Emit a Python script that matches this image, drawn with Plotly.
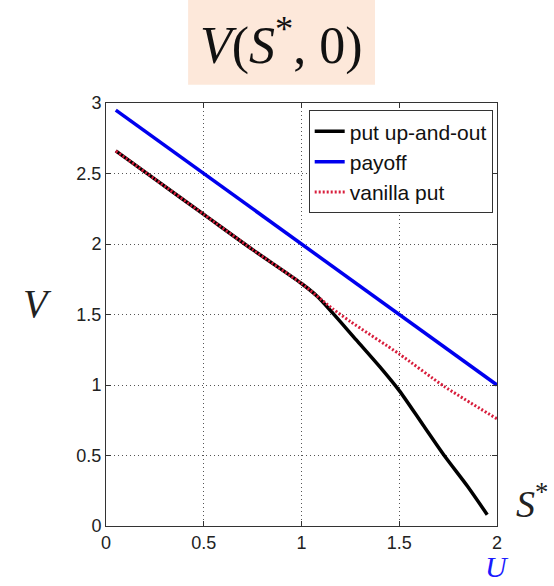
import plotly.graph_objects as go

# ---- data ----
s_knock = [0.05, 0.25, 0.5, 0.75, 1.0, 1.08, 1.16, 1.28, 1.4, 1.5, 1.62, 1.73, 1.85, 1.95]
v_knock = [2.66, 2.46, 2.21, 1.96, 1.72, 1.63, 1.51, 1.32, 1.13, 0.96, 0.72, 0.50, 0.28, 0.08]

s_payoff = [0.05, 2.0]
v_payoff = [2.95, 1.0]

s_vanilla = [0.05, 0.25, 0.5, 0.75, 1.0, 1.16, 1.25, 1.5, 1.73, 2.0]
v_vanilla = [2.66, 2.46, 2.21, 1.96, 1.72, 1.54, 1.45, 1.22, 0.99, 0.76]

x_ticks = [0, 0.5, 1, 1.5, 2]
x_ticklabels = ["0", "0.5", "1", "1.5", "2"]
y_ticks = [0, 0.5, 1, 1.5, 2, 2.5, 3]
y_ticklabels = ["0", "0.5", "1", "1.5", "2", "2.5", "3"]

names = ["put up-and-out", "payoff", "vanilla put"]

fig = go.Figure()
fig.add_trace(go.Scatter(x=s_knock, y=v_knock, mode="lines", name=names[0], legendgroup="a",
                         line=dict(color="black", width=3.5, shape="spline", smoothing=0.8)))
fig.add_trace(go.Scatter(x=s_payoff, y=v_payoff, mode="lines", name=names[1], legendgroup="b",
                         line=dict(color="#0000ee", width=3.5)))
fig.add_trace(go.Scatter(x=s_vanilla, y=v_vanilla, mode="lines", name=names[2], legendgroup="c",
                         line=dict(color="#d81e3c", width=3, dash="2px,2px",
                                   shape="spline", smoothing=0.6)))

axis_common = dict(
    showline=True, linecolor="#333", linewidth=1, mirror="ticks",
    ticks="inside", ticklen=5, tickcolor="#333",
    showgrid=True, gridcolor="#555", griddash="1px,3px", gridwidth=1,
    zeroline=False,
    tickfont=dict(family="Arial, Liberation Sans", size=18, color="#222"),
)

fig.update_xaxes(range=[0, 2], tickvals=x_ticks, ticktext=x_ticklabels, **axis_common)
fig.update_yaxes(range=[0, 3], tickvals=y_ticks, ticktext=y_ticklabels, **axis_common)

fig.update_layout(
    width=554, height=586,
    margin=dict(l=106, r=57, t=103, b=60),
    paper_bgcolor="white", plot_bgcolor="white",
    showlegend=True,
    legend=dict(x=0.989, y=0.983, xanchor="right", yanchor="top",
                bgcolor="white", bordercolor="#333", borderwidth=1,
                font=dict(family="Arial, Liberation Sans", size=21, color="#111"),
                tracegroupgap=0, itemwidth=30, traceorder="grouped"),
)

# title box
fig.add_shape(type="rect", xref="paper", yref="paper",
              x0=0.21, x1=0.688, y0=1.043, y1=1.245,
              fillcolor="#fde8da", line=dict(width=0), layer="below")
fig.add_annotation(xref="paper", yref="paper", x=0.449, y=1.144,
                   text="<i>V</i>(<i>S</i><sup>*</sup>, 0)", showarrow=False,
                   font=dict(family="Liberation Serif", size=52, color="#111"),
                   xanchor="center", yanchor="middle")

# axis labels
fig.add_annotation(xref="paper", yref="paper", x=-0.175, y=0.525,
                   text="<i>V</i>", showarrow=False,
                   font=dict(family="Liberation Serif", size=40, color="#222"),
                   xanchor="center", yanchor="middle")
fig.add_annotation(xref="paper", yref="paper", x=1.09, y=0.06,
                   text="<i>S</i><sup>*</sup>", showarrow=False,
                   font=dict(family="Liberation Serif", size=38, color="#222"),
                   xanchor="center", yanchor="middle")
fig.add_annotation(xref="paper", yref="paper", x=1.0, y=-0.139,
                   text="<i>U</i>", showarrow=False,
                   font=dict(family="Liberation Serif", size=30, color="#1a1aff"),
                   xanchor="center", yanchor="bottom")

fig.write_html("out.html", config={"displayModeBar": False},
               post_script="document.body.style.margin='0';document.body.style.overflow='hidden';")
